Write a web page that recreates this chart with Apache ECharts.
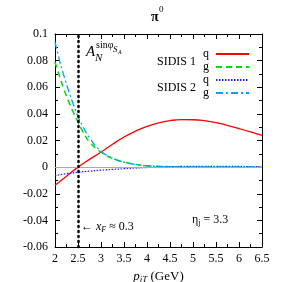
<!DOCTYPE html>
<html><head><meta charset="utf-8">
<script src="https://cdn.jsdelivr.net/npm/echarts@6/dist/echarts.min.js"></script>
<style>html,body{margin:0;padding:0;background:#fff}#c{width:283px;height:282px}</style>
</head><body><div id="c"></div>
<script>
const xq = [2,2.25,2.5,2.75,3,3.25,3.5,3.75,4,4.25,4.5,4.75,5,5.25,5.5,5.75,6,6.25,6.5];
const sidis1q = [-0.0137,-0.0068,0,0.0058,0.0113,0.0172,0.0226,0.0270,0.0306,0.0333,0.0350,0.0357,0.0356,0.0349,0.0335,0.0313,0.0290,0.0265,0.0238];
const sidis2q = [-0.0064,-0.0050,-0.0039,-0.0030,-0.0023,-0.0017,-0.0012,-0.0007,-0.0003,0,0.0003,0.0005,0.0006,0.0006,0.0006,0.0005,0.0005,0.0004,0.0004];
const xg = [2,2.1,2.2,2.3,2.4,2.5,2.6,2.75,3,3.25,3.5,3.75,4,4.5,5,5.5,6,6.5];
const sidis1g = [0.079,0.068,0.058,0.049,0.041,0.034,0.027,0.019,0.0113,0.0065,0.0038,0.002,0.001,0.0003,0.0001,0,0,0];
const sidis2g = [0.094,0.080,0.068,0.057,0.047,0.038,0.031,0.022,0.012,0.0068,0.0038,0.002,0.001,0.0003,0.0002,0.0001,0.0001,0.0001];
const xTicks = [2,2.5,3,3.5,4,4.5,5,5.5,6,6.5];
const yTicks = [-0.06,-0.04,-0.02,0,0.02,0.04,0.06,0.08,0.1];
const xF = 2.5;

const F = 'Liberation Serif';
const pair = (xs, ys) => xs.map((x, i) => [x, ys[i]]);
const chart = echarts.init(document.getElementById('c'));
const axisCommon = {
  axisLine: {show: true, onZero: false, lineStyle: {color: '#000', width: 1}},
  axisTick: {show: true, inside: true, length: 5, lineStyle: {color: '#000'}},
  minorTick: {show: true, splitNumber: 2, length: 3, lineStyle: {color: '#000'}},
  splitLine: {show: false}
};
const legendCommon = {orient: 'vertical', left: 203, align: 'right',
  itemWidth: 33, itemHeight: 10, itemGap: 1, padding: 0, formatter: n => n.slice(-1),
  itemStyle: {opacity: 0, borderWidth: 0},
  textStyle: {fontFamily: F, fontSize: 12, color: '#000', padding: [0, 2, 0, 0]}};
chart.setOption({
  animation: false,
  grid: {left: 55, right: 21, top: 34, bottom: 35, outerBoundsMode: 'none', containLabel: false},
  xAxis: [
    Object.assign({type: 'value', min: 2, max: 6.5, interval: 0.5, position: 'bottom',
      axisLabel: {fontFamily: F, fontSize: 12, color: '#000', margin: 6, formatter: v => String(v)},
      name: '{i|p}{s|jT} (GeV)', nameLocation: 'middle', nameGap: 22,
      nameTextStyle: {fontFamily: F, fontSize: 13, color: '#000',
        rich: {i: {fontSize: 13, fontFamily: F, fontStyle: 'italic'},
               s: {fontSize: 9, fontFamily: F, fontStyle: 'italic', verticalAlign: 'bottom', padding: [6,0,0,0]}}}}, axisCommon),
    Object.assign({type: 'value', min: 2, max: 6.5, interval: 0.5, position: 'top', axisLabel: {show: false}}, axisCommon)
  ],
  yAxis: [
    Object.assign({type: 'value', min: -0.06, max: 0.1, interval: 0.02, position: 'left',
      axisLabel: {fontFamily: F, fontSize: 12, color: '#000', margin: 7,
        formatter: v => String(Math.round(v * 100) / 100)}}, axisCommon),
    Object.assign({type: 'value', min: -0.06, max: 0.1, interval: 0.02, position: 'right', axisLabel: {show: false}}, axisCommon)
  ],
  legend: [
    Object.assign({data: ['SIDIS 1 q', 'SIDIS 1 g'], top: 48}, legendCommon),
    Object.assign({data: ['SIDIS 2 q', 'SIDIS 2 g'], top: 74}, legendCommon)
  ],
  series: [
    {name: 'ref', type: 'line', data: [], silent: true,
      markLine: {symbol: 'none', silent: true, label: {show: false}, data: [
        {yAxis: 0, lineStyle: {color: '#aaa', width: 1, type: 'solid'}},
        {xAxis: xF, lineStyle: {color: '#000', width: 2.5, type: [1, 4], cap: 'round'}}
      ]}},
    {name: 'SIDIS 1 q', type: 'line', smooth: true, symbol: 'none', data: pair(xq, sidis1q),
      lineStyle: {color: '#ff0000', width: 1.3, type: 'solid'}, itemStyle: {color: '#ff0000'}},
    {name: 'SIDIS 1 g', type: 'line', smooth: true, symbol: 'none', data: pair(xg, sidis1g),
      lineStyle: {color: '#00dd00', width: 1.5, type: [6, 4]}, itemStyle: {color: '#00dd00'}},
    {name: 'SIDIS 2 q', type: 'line', smooth: true, symbol: 'none', data: pair(xq, sidis2q),
      lineStyle: {color: '#2020ff', width: 1.3, type: [1.5, 1.5]}, itemStyle: {color: '#2020ff'}},
    {name: 'SIDIS 2 g', type: 'line', smooth: true, symbol: 'none', data: pair(xg, sidis2g),
      lineStyle: {color: '#00a0ff', width: 1.3, type: [7, 3, 2, 3]}, itemStyle: {color: '#00a0ff'}}
  ],
  graphic: [
    {type: 'text', left: 151, top: 10, style: {text: 'π', font: 'bold 14px "Liberation Serif"', fill: '#000'}},
    {type: 'text', left: 159, top: 5, style: {text: '0', font: '9px "Liberation Serif"', fill: '#000'}},
    {type: 'text', left: 157, top: 56, style: {text: 'SIDIS 1', font: '12px "Liberation Serif"', fill: '#000'}},
    {type: 'text', left: 157, top: 82, style: {text: 'SIDIS 2', font: '12px "Liberation Serif"', fill: '#000'}},
    {type: 'text', left: 86, top: 45, style: {text: 'A', font: 'italic 15px "Liberation Serif"', fill: '#000'}},
    {type: 'text', left: 95, top: 53, style: {text: 'N', font: 'italic 11px "Liberation Serif"', fill: '#000'}},
    {type: 'text', left: 96, top: 40, style: {text: 'sinφ', font: '10px "Liberation Serif"', fill: '#000'}},
    {type: 'text', left: 113, top: 45, style: {text: 'S', font: 'italic 9px "Liberation Serif"', fill: '#000'}},
    {type: 'text', left: 118, top: 49, style: {text: 'A', font: 'italic 6px "Liberation Serif"', fill: '#000'}},
    {type: 'text', left: 81, top: 221, style: {
      text: '← {i|x}{s|F} ≈ 0.3',
      font: '12px "Liberation Serif"', fill: '#000',
      rich: {i: {fontFamily: F, fontSize: 12, fontStyle: 'italic'}, s: {fontFamily: F, fontSize: 8, fontStyle: 'italic', verticalAlign: 'bottom', padding: [5,0,0,0]}}}},
    {type: 'text', left: 192, top: 214, style: {
      text: 'η{s|j} = 3.3', font: '12px "Liberation Serif"', fill: '#000',
      rich: {s: {fontFamily: F, fontSize: 8, verticalAlign: 'bottom', padding: [5,0,0,0]}}}}
  ]
});
</script></body></html>
